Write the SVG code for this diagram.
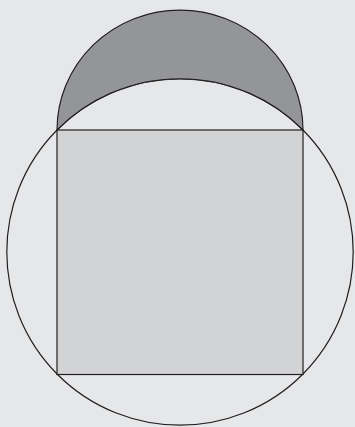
<svg xmlns="http://www.w3.org/2000/svg" width="355" height="427" viewBox="0 0 355 427">
<style>
.ln{stroke:#231f20;stroke-width:1.2;}
</style>
<rect x="0" y="0" width="355" height="427" fill="#e6e7e8"/>
<g id="big-circle"><circle cx="180" cy="252" r="173.2" fill="none" class="ln"/></g>
<g id="square"><rect x="57" y="130" width="246" height="244.5" fill="#d1d3d4" class="ln"/></g>
<g id="lune"><path d="M57,130 A123,120 0 0 1 303,130 A173.2,173.2 0 0 0 57,130 Z" fill="#939598" class="ln"/></g>
</svg>
